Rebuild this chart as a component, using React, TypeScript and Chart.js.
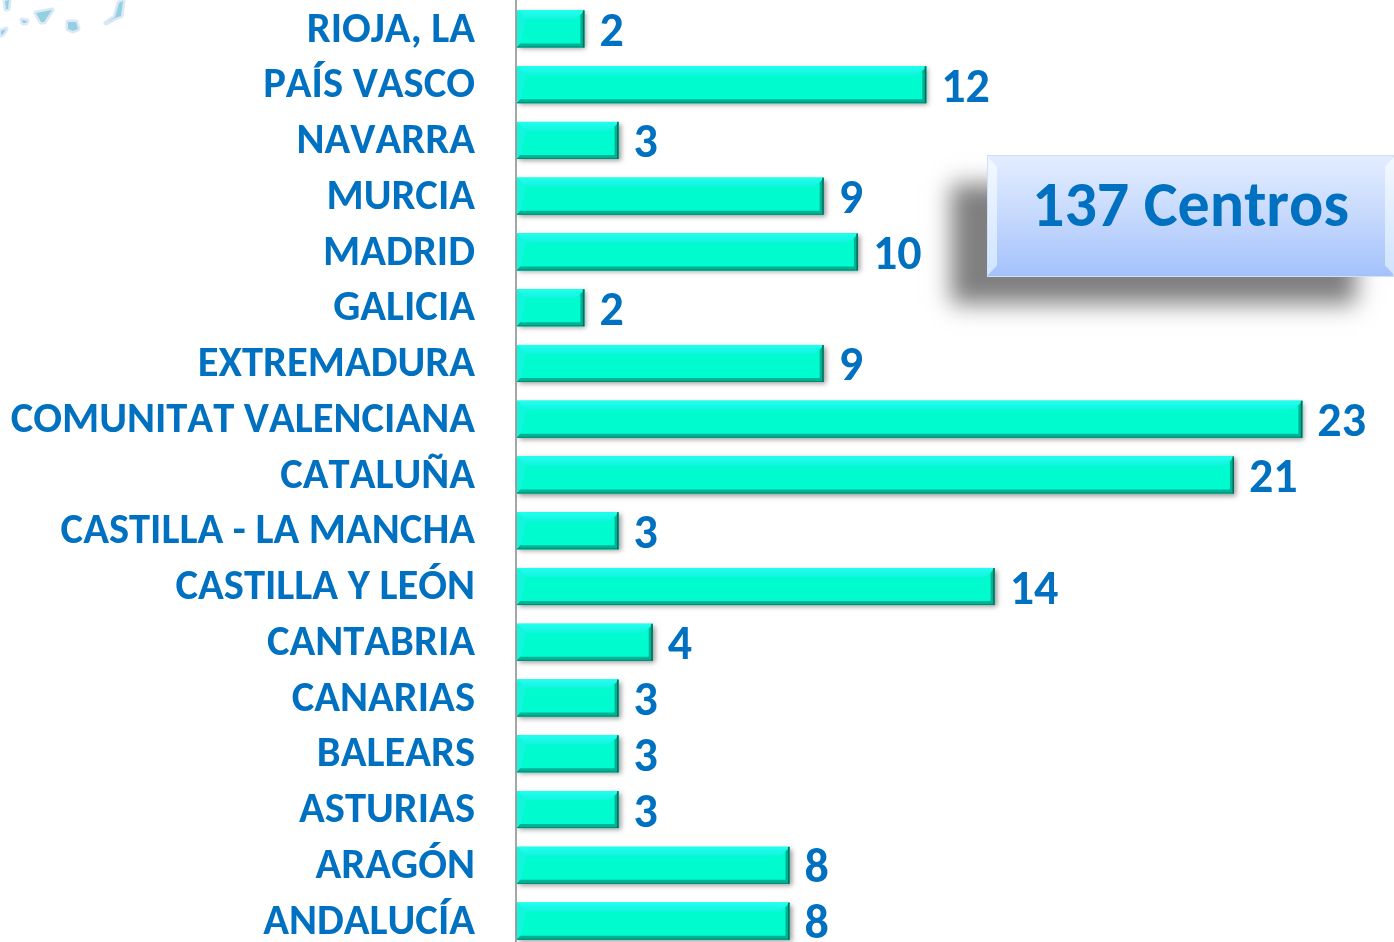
import React, { useEffect, useRef } from "react";
import { Chart, registerables } from "chart.js";

Chart.register(...registerables);

const categories = ["RIOJA, LA","PAÍS VASCO","NAVARRA","MURCIA","MADRID","GALICIA","EXTREMADURA","COMUNITAT VALENCIANA","CATALUÑA","CASTILLA - LA MANCHA","CASTILLA Y LEÓN","CANTABRIA","CANARIAS","BALEARS","ASTURIAS","ARAGÓN","ANDALUCÍA"];
const centros = [2,12,3,9,10,2,9,23,21,3,14,4,3,3,3,8,8];
const totalLabel = "137 Centros";
const BLUE = "#0070C0";
const FONT = "Carlito, 'Open Sans', sans-serif";

const bevelPlugin = {
  id: "bevel",
  beforeDraw(chart: any) {
    chart.ctx.fontKerning = "none";
  },
  afterDatasetsDraw(chart: any) {
    const ctx = chart.ctx;
    const meta = chart.getDatasetMeta(0);
    meta.data.forEach((el: any, i: number) => {
      const { x, y, base, height } = el.getProps(["x", "y", "base", "height"], true);
      const l = base + 1, r = x, t = y - height / 2, b = y + height / 2;
      const w = r - l, bv = 9;
      ctx.save();
      ctx.shadowColor = "rgba(0,0,0,0.4)";
      ctx.shadowBlur = 5;
      ctx.shadowOffsetX = 2;
      ctx.shadowOffsetY = 2;
      ctx.fillStyle = "#00F5C8";
      ctx.fillRect(l, t, w, height);
      ctx.restore();
      ctx.fillStyle = "#00FBCF";
      ctx.fillRect(l, t, w, height);
      const topG = ctx.createLinearGradient(0, t, 0, t + bv);
      topG.addColorStop(0, "#22FFF0");
      topG.addColorStop(1, "#12F4DE");
      ctx.beginPath();
      ctx.moveTo(l, t); ctx.lineTo(r, t); ctx.lineTo(r - bv, t + bv); ctx.lineTo(l + bv, t + bv); ctx.closePath();
      ctx.fillStyle = topG;
      ctx.fill();
      ctx.beginPath();
      ctx.moveTo(l, t); ctx.lineTo(l + bv, t + bv); ctx.lineTo(l + 4, b - 4); ctx.lineTo(l, b); ctx.closePath();
      ctx.fillStyle = "#14F6DC";
      ctx.fill();
      ctx.beginPath();
      ctx.moveTo(l, b); ctx.lineTo(r, b); ctx.lineTo(r - 3, b - 4); ctx.lineTo(l + 3, b - 4); ctx.closePath();
      ctx.fillStyle = "#00B294";
      ctx.fill();
      ctx.fillStyle = "#008A72";
      ctx.fillRect(l, b - 1, w, 1);
      ctx.beginPath();
      ctx.moveTo(r, t); ctx.lineTo(r, b); ctx.lineTo(r - 4, b - 4); ctx.lineTo(r - 4, t + 5); ctx.closePath();
      ctx.fillStyle = "#00B294";
      ctx.fill();
      ctx.fillStyle = "#006E5C";
      ctx.fillRect(r - 1.5, t, 1.5, height);
      ctx.fillStyle = BLUE;
      ctx.font = "bold 48px " + FONT;
      ctx.textAlign = "left";
      ctx.textBaseline = "middle";
      ctx.fillText(String(centros[i]), r + 15, y + 5);
    });
  },
};

const islands = [
  "M5 1 L9 0 L8 9 L6 9 Z",
  "M36 13 L52 10 L44 22 L41 22 Z",
  "M22 20 L27 21 L26 23 L23 23 Z",
  "M68 22 L76 22 L78 29 L73 31 L68 29 Z",
  "M119 3 L123 1 L121 16 L115 18 L106 23 L115 17 Z",
  "M1 31 L6 29 L3 34 L1 35 Z",
];

export default function App() {
  const ref = useRef<HTMLCanvasElement>(null);
  useEffect(() => {
    document.body.style.margin = "0";
    document.body.style.overflow = "hidden";
    const chart = new Chart(ref.current!, {
      type: "bar",
      data: {
        labels: categories,
        datasets: [{ data: centros, backgroundColor: "rgba(0,0,0,0)", categoryPercentage: 1, barPercentage: 0.664 }],
      },
      options: {
        indexAxis: "y",
        animation: false,
        responsive: false,
        layout: { padding: { top: 1 } },
        plugins: { legend: { display: false }, tooltip: { enabled: false }, title: { display: false } },
        scales: {
          x: { display: false, min: 0, max: 25.68 },
          y: {
            afterFit(s: any) { s.width = 516; s.paddingTop = 0; s.paddingBottom = 0; },
            border: { display: true, color: "#A6A6A6", width: 2 },
            grid: { display: false },
            ticks: { color: BLUE, font: { family: FONT, size: 42.55, weight: "bold" }, padding: 33, autoSkip: false, labelOffset: 2 },
          },
        },
      },
      plugins: [bevelPlugin],
    });
    return () => chart.destroy();
  }, []);
  return (
    <div style={{ position: "relative", width: 1394, height: 942, overflow: "hidden", background: "#fff" }}>
      <canvas ref={ref} width={1394} height={949} style={{ position: "absolute", left: 0, top: 0, display: "block" }} />
      <svg width={130} height={40} style={{ position: "absolute", left: 0, top: 0, filter: "blur(0.6px)" }}>
        {islands.map((d, i) => (
          <path key={i} d={d} fill="#93D0E2" stroke="#DCE9F5" strokeWidth={5} strokeLinejoin="round" paintOrder="stroke" />
        ))}
      </svg>
      <div style={{
        position: "absolute", left: 987, top: 155, width: 407, height: 122, boxSizing: "border-box",
        background: "linear-gradient(180deg,#E3EDFF 0%,#C6D9FD 50%,#A3C1FB 100%)",
        boxShadow: "-37px 28px 22px -1px rgba(0,0,0,0.5)",
        outline: "1px solid #CFE0FF", outlineOffset: -1,
        color: BLUE, fontFamily: FONT, fontWeight: 700, fontSize: 64, textAlign: "center", lineHeight: "99px",
        fontKerning: "none",
      }}>
        {totalLabel}
        <div style={{ position: "absolute", left: 1, top: 2, width: 9, height: 118,
          background: "linear-gradient(180deg,#F2F8FF,#CFE4FF)",
          clipPath: "polygon(0 0,100% 8%,100% 92%,0 100%)" }} />
        <div style={{ position: "absolute", right: 0, top: 2, width: 9, height: 118,
          background: "linear-gradient(180deg,#F2F8FF,#CFE4FF)",
          clipPath: "polygon(100% 0,0 8%,0 92%,100% 100%)" }} />
      </div>
    </div>
  );
}
